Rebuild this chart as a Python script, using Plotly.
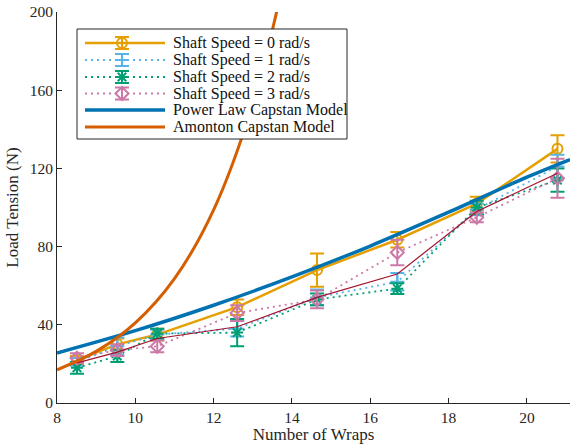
import plotly.graph_objects as go

# Data
wraps = [8.51, 9.54, 10.56, 12.6, 14.64, 16.69, 18.72, 20.78]

speed0 = [22, 30, 35, 49, 68, 83.5, 102, 130]
speed0_err = [2, 3, 3, 4, 8.5, 4, 3.5, 7]
speed1 = [21, 29, 35, 38, 54, 62, 99, 121]
speed1_err = [2, 4.5, 2.5, 4, 4, 4.5, 3, 6]
speed2 = [18, 24, 35.5, 36, 53, 58.5, 100, 114]
speed2_err = [3, 3, 2.5, 7, 3, 2.7, 3.5, 6]
speed3 = [23, 27, 29, 46, 53, 77, 95, 115]
speed3_err = [2.5, 3, 3, 4, 4.5, 6.5, 2.5, 10]
mean_tension = [20.5, 26, 33, 39, 54, 66, 98, 117.5]

power_x = [8, 10, 12, 14, 16, 18, 20, 21.1]
power_y = [25.6, 37, 50, 64.5, 80.3, 97.6, 115.5, 124.5]

amonton_x = [8, 9, 10, 11, 12, 13, 13.7]
amonton_y = [17, 26.4, 41, 63.6, 98.8, 153, 208]

x_ticks = [8, 10, 12, 14, 16, 18, 20]
y_ticks = [0, 40, 80, 120, 160, 200]

FONT = "Liberation Serif"
TXT = "#262626"

series = [
    ("Shaft Speed = 0 rad/s", speed0, speed0_err, "#E69F00", "solid", 2.5, "circle-open"),
    ("Shaft Speed = 1 rad/s", speed1, speed1_err, "#56B4E9", "2px,4px", 1.8, "cross-thin-open"),
    ("Shaft Speed = 2 rad/s", speed2, speed2_err, "#009E73", "2px,4px", 1.8, "asterisk-open"),
    ("Shaft Speed = 3 rad/s", speed3, speed3_err, "#CC79A7", "2px,4px", 1.8, "diamond-open"),
]
models = [
    ("Power Law Capstan Model", power_x, power_y, "#0072B2", 3.5),
    ("Amonton Capstan Model", amonton_x, amonton_y, "#D55E00", 3),
]

fig = go.Figure()
for name, y, err, color, dash, lw, sym in series:
    fig.add_trace(go.Scatter(
        x=wraps, y=y, name=name, mode="lines+markers", showlegend=False,
        line=dict(color=color, dash=dash, width=lw),
        marker=dict(symbol=sym, size=10, color=color, line=dict(color=color, width=2)),
        error_y=dict(type="data", array=err, visible=True, color=color, thickness=2, width=7),
    ))

fig.add_trace(go.Scatter(
    x=wraps, y=mean_tension, mode="lines", showlegend=False,
    line=dict(color="#A2142F", width=1.2),
))

for name, mx, my, color, lw in models:
    fig.add_trace(go.Scatter(
        x=mx, y=my, name=name, mode="lines", showlegend=False,
        line=dict(color=color, width=lw, shape="spline"),
    ))

# ---- custom legend drawn on an overlay axis measured in screen pixels ----
box_l, box_r, box_t, box_b = 77, 347, 29, 139
row_y = [43, 60, 77, 93.5, 110, 127]
samp_l, samp_r, samp_m, text_x = 85, 165, 122, 171

fig.add_trace(go.Scatter(
    x=[box_l, box_r, box_r, box_l, box_l], y=[box_t, box_t, box_b, box_b, box_t],
    mode="lines", fill="toself", fillcolor="white",
    line=dict(color=TXT, width=1), showlegend=False, hoverinfo="skip",
    xaxis="x2", yaxis="y2",
))
for (name, y, err, color, dash, lw, sym), ry in zip(series, row_y[:4]):
    fig.add_trace(go.Scatter(
        x=[samp_l, samp_r], y=[ry, ry], mode="lines", showlegend=False,
        line=dict(color=color, dash=dash, width=lw), hoverinfo="skip",
        xaxis="x2", yaxis="y2",
    ))
    fig.add_trace(go.Scatter(
        x=[samp_m], y=[ry], mode="markers", showlegend=False,
        marker=dict(symbol=sym, size=10, color=color, line=dict(color=color, width=2)),
        error_y=dict(type="data", array=[6], visible=True, color=color, thickness=2, width=7),
        hoverinfo="skip", xaxis="x2", yaxis="y2",
    ))
for (name, mx, my, color, lw), ry in zip(models, row_y[4:]):
    fig.add_trace(go.Scatter(
        x=[samp_l, samp_r], y=[ry, ry], mode="lines", showlegend=False,
        line=dict(color=color, width=lw), hoverinfo="skip",
        xaxis="x2", yaxis="y2",
    ))

names = [s[0] for s in series] + [m[0] for m in models]
annotations = [
    dict(x=text_x, y=ry, xref="x2", yref="y2", text=nm, showarrow=False,
         xanchor="left", yanchor="middle", font=dict(size=16, color="#111111", family=FONT))
    for nm, ry in zip(names, row_y)
]

axis_common = dict(
    showline=True, linecolor=TXT, linewidth=1,
    ticks="inside", ticklen=5, tickcolor=TXT,
    showgrid=False, zeroline=False, mirror=False,
    tickfont=dict(size=15.5, color=TXT, family=FONT),
)

fig.update_layout(
    width=574, height=444,
    margin=dict(l=57, r=4, t=12, b=41),
    paper_bgcolor="white", plot_bgcolor="white",
    font=dict(family=FONT, color=TXT, size=15),
    xaxis=dict(range=[8, 21.1], tickvals=x_ticks,
               title=dict(text="Number of Wraps", standoff=0, font=dict(size=17, family=FONT)),
               **axis_common),
    yaxis=dict(range=[0, 200], tickvals=y_ticks,
               title=dict(text="Load Tension (N)", standoff=6, font=dict(size=17, family=FONT)),
               **axis_common),
    xaxis2=dict(overlaying="x", range=[57, 570], visible=False, fixedrange=True),
    yaxis2=dict(overlaying="y", range=[403, 12], visible=False, fixedrange=True),
    annotations=annotations,
    showlegend=False,
)

fig.write_html("out.html")
